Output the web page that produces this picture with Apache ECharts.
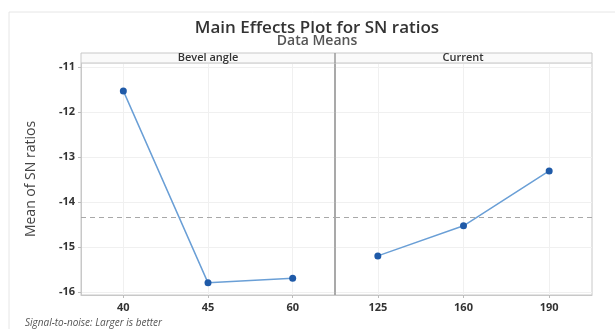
<!DOCTYPE html>
<html><head><meta charset="utf-8">
<script src="https://cdn.jsdelivr.net/npm/echarts@6/dist/echarts.min.js"></script>
<style>html,body{margin:0;padding:0;background:#fff}#c{width:615px;height:329px}</style>
</head><body><div id="c"></div>
<script>
const bevelCats = ['40', '45', '60'];
const bevelVals = [-11.53, -15.80, -15.70];
const currentCats = ['125', '160', '190'];
const currentVals = [-15.20, -14.53, -13.31];
const yTicks = [-16, -15, -14, -13, -12, -11];
const panelNames = ['Bevel angle', 'Current'];

const all = bevelVals.concat(currentVals);
const grandMean = all.reduce((a, b) => a + b, 0) / all.length;

const FONT = '"Open Sans", sans-serif';
const yMin = -16.07, yMax = -10.91;

const chart = echarts.init(document.getElementById('c'), null, {renderer: 'canvas'});
const lineColor = '#6a9fd6';
const markColor = '#1f5aa8';

function xAx(cats, gi) {
  return {
    type: 'category', gridIndex: gi, data: cats, boundaryGap: true,
    axisLine: {show: true, lineStyle: {color: '#c8c8c8'}},
    axisTick: {show: true, alignWithLabel: true, length: 3, lineStyle: {color: '#bbb'}},
    axisLabel: {color: '#333', fontSize: 11, fontWeight: 700, fontFamily: FONT, margin: 7},
    splitLine: {show: true, alignWithLabel: true, lineStyle: {color: '#f0f0f0'}}
  };
}
function yAx(gi, showLabels) {
  return {
    type: 'value', gridIndex: gi, min: yMin, max: yMax, splitNumber: 5,
    name: showLabels ? 'Mean of SN ratios' : '', nameLocation: 'middle', nameGap: 43,
    nameTextStyle: {fontSize: 14, color: '#444', fontFamily: FONT},
    axisLine: {show: true, lineStyle: {color: showLabels ? '#c8c8c8' : '#9a9a9a', width: showLabels ? 1 : 1.5}},
    axisTick: {show: showLabels, length: 3, lineStyle: {color: '#bbb'}},
    axisLabel: {show: showLabels, color: '#333', fontSize: 11, fontWeight: 700, fontFamily: FONT,
      showMinLabel: false, showMaxLabel: false, margin: 6,
      formatter: v => yTicks.includes(Math.round(v * 1000) / 1000) ? String(v) : ''},
    splitLine: {show: true, lineStyle: {color: '#f0f0f0'}}
  };
}
function ser(vals, gi) {
  return {
    type: 'line', xAxisIndex: gi, yAxisIndex: gi, data: vals,
    symbol: 'circle', symbolSize: 7,
    lineStyle: {color: lineColor, width: 1.5},
    itemStyle: {color: markColor},
    z: 3,
    markLine: {
      silent: true, symbol: 'none', label: {show: false},
      lineStyle: {color: '#a8a8a8', type: [5, 4], width: 1},
      data: [{yAxis: grandMean}]
    }
  };
}

chart.setOption({
  animation: false,
  title: {
    text: 'Main Effects Plot for SN ratios', subtext: 'Data Means',
    left: 312, textAlign: 'center', top: 14, itemGap: -3,
    textStyle: {fontSize: 17, fontWeight: 600, color: '#333', fontFamily: FONT, lineHeight: 18},
    subtextStyle: {fontSize: 14, fontWeight: 600, color: '#555', fontFamily: FONT, lineHeight: 14}
  },
  grid: [
    {left: 81, top: 63, width: 254, height: 232, show: true, borderColor: '#c8c8c8', backgroundColor: 'transparent'},
    {left: 335, top: 63, width: 257, height: 232, show: true, borderColor: '#c8c8c8', backgroundColor: 'transparent'}
  ],
  xAxis: [xAx(bevelCats, 0), xAx(currentCats, 1)],
  yAxis: [yAx(0, true), yAx(1, false)],
  series: [ser(bevelVals, 0), ser(currentVals, 1)],
  graphic: [
    {type: 'rect', shape: {x: 9, y: 12, width: 640, height: 340}, style: {fill: 'none', stroke: '#e6e6e6', lineWidth: 1}, z: -10},
    {type: 'rect', shape: {x: 81, y: 53, width: 511, height: 10}, style: {fill: '#fafafa', stroke: '#c8c8c8', lineWidth: 1}, z: 1},
    {type: 'line', shape: {x1: 335, y1: 53, x2: 335, y2: 63}, style: {stroke: '#9a9a9a', lineWidth: 1.5}, z: 2},
    {type: 'text', x: 208, y: 58, style: {text: panelNames[0], align: 'center', verticalAlign: 'middle', fontSize: 11, fontWeight: 600, fill: '#333', fontFamily: FONT}, z: 3},
    {type: 'text', x: 463, y: 58, style: {text: panelNames[1], align: 'center', verticalAlign: 'middle', fontSize: 11, fontWeight: 600, fill: '#333', fontFamily: FONT}, z: 3},
    {type: 'text', x: 25, y: 323, style: {text: 'Signal-to-noise: Larger is better', align: 'left', verticalAlign: 'middle', fontSize: 10, fontStyle: 'italic', fill: '#555', fontFamily: FONT}, z: 3}
  ]
});
</script></body></html>
